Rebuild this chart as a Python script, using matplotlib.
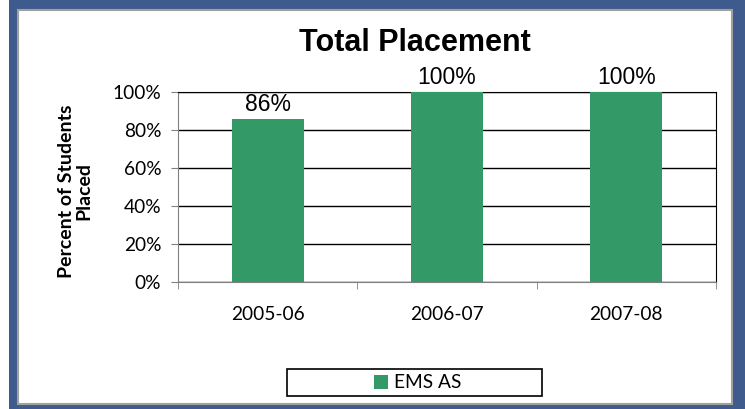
import matplotlib.pyplot as plt
import numpy as np
from matplotlib.patches import Rectangle
from matplotlib.ticker import PercentFormatter

# Chart data
years = ['2005-06', '2006-07', '2007-08']
placed_pct = [86, 100, 100]
series_name = 'EMS AS'

W, H = 745, 409


def px_rect(x0, y0, x1, y1, **kw):
    """Rectangle given in pixel coords measured from the top-left corner."""
    return Rectangle((x0 / W, 1 - y1 / H), (x1 - x0) / W, (y1 - y0) / H,
                     transform=fig.transFigure, **kw)


fig = plt.figure(figsize=(W / 100, H / 100), dpi=100)
fig.patch.set_facecolor('white')

# blue frame with grey inner edge (kept behind the axes)
fig.add_artist(px_rect(9, -5, 760, 420, facecolor='#3F5A8C', edgecolor='none', zorder=-10))
fig.add_artist(px_rect(18, 10, 732, 404, facecolor='white', edgecolor='#A0A0A0',
                       linewidth=1.5, zorder=-9))

ax = fig.add_axes([178 / W, 1 - 282 / H, (716 - 178) / W, (282 - 92) / H])
ax.set_facecolor('white')
x = np.arange(len(years))
bars = ax.bar(x, placed_pct, width=0.4, color='#339966', label=series_name, zorder=3)

ax.set_xlim(-0.5, len(years) - 0.5)
ax.set_ylim(0, 100)
ax.set_yticks(np.arange(0, 101, 20))
ax.yaxis.set_major_formatter(PercentFormatter(decimals=0))
ax.grid(axis='y', color='black', linewidth=1, zorder=0)
ax.set_xticks(x)
ax.set_xticklabels(years, family='Lato', fontsize=13.8)
ax.tick_params(axis='x', length=0, pad=17)
ax.set_xticks(np.arange(-0.5, len(years)), minor=True)
ax.tick_params(axis='x', which='minor', length=5, color='#808080')
ax.tick_params(axis='y', length=5, color='#808080', labelsize=13.8, pad=7)
for lbl in ax.get_yticklabels():
    lbl.set_family('Lato')

for side in ['left', 'bottom']:
    ax.spines[side].set_color('#808080')
ax.spines['top'].set_color('black')
ax.spines['right'].set_color('black')

for b, v in zip(bars, placed_pct):
    ax.annotate(f'{v}%', (b.get_x() + b.get_width() / 2, v), xytext=(0, 2),
                textcoords='offset points', ha='center', va='bottom',
                family='Liberation Sans', fontsize=16.5)

fig.text(75.5 / W, 1 - 191 / H, 'Percent of Students\nPlaced', rotation=90,
         ha='center', va='center', multialignment='center', family='Lato',
         fontweight='bold', fontsize=14, linespacing=1.05)

fig.text(415 / W, 1 - 43 / H, 'Total Placement', ha='center', va='center',
         family='Liberation Sans', fontweight='bold', fontsize=22)

# legend box drawn separately so it can be wider than its content
fig.add_artist(px_rect(287, 369, 542, 396, facecolor='white', edgecolor='black',
                       linewidth=1.2, zorder=-5))
leg = fig.legend(loc='center', bbox_to_anchor=(418 / W, 1 - 383 / H),
                 prop={'family': 'Lato', 'size': 13.8}, frameon=False,
                 handlelength=0.7, handleheight=0.7, handletextpad=0.35)

plt.savefig('out.png', dpi=100)
